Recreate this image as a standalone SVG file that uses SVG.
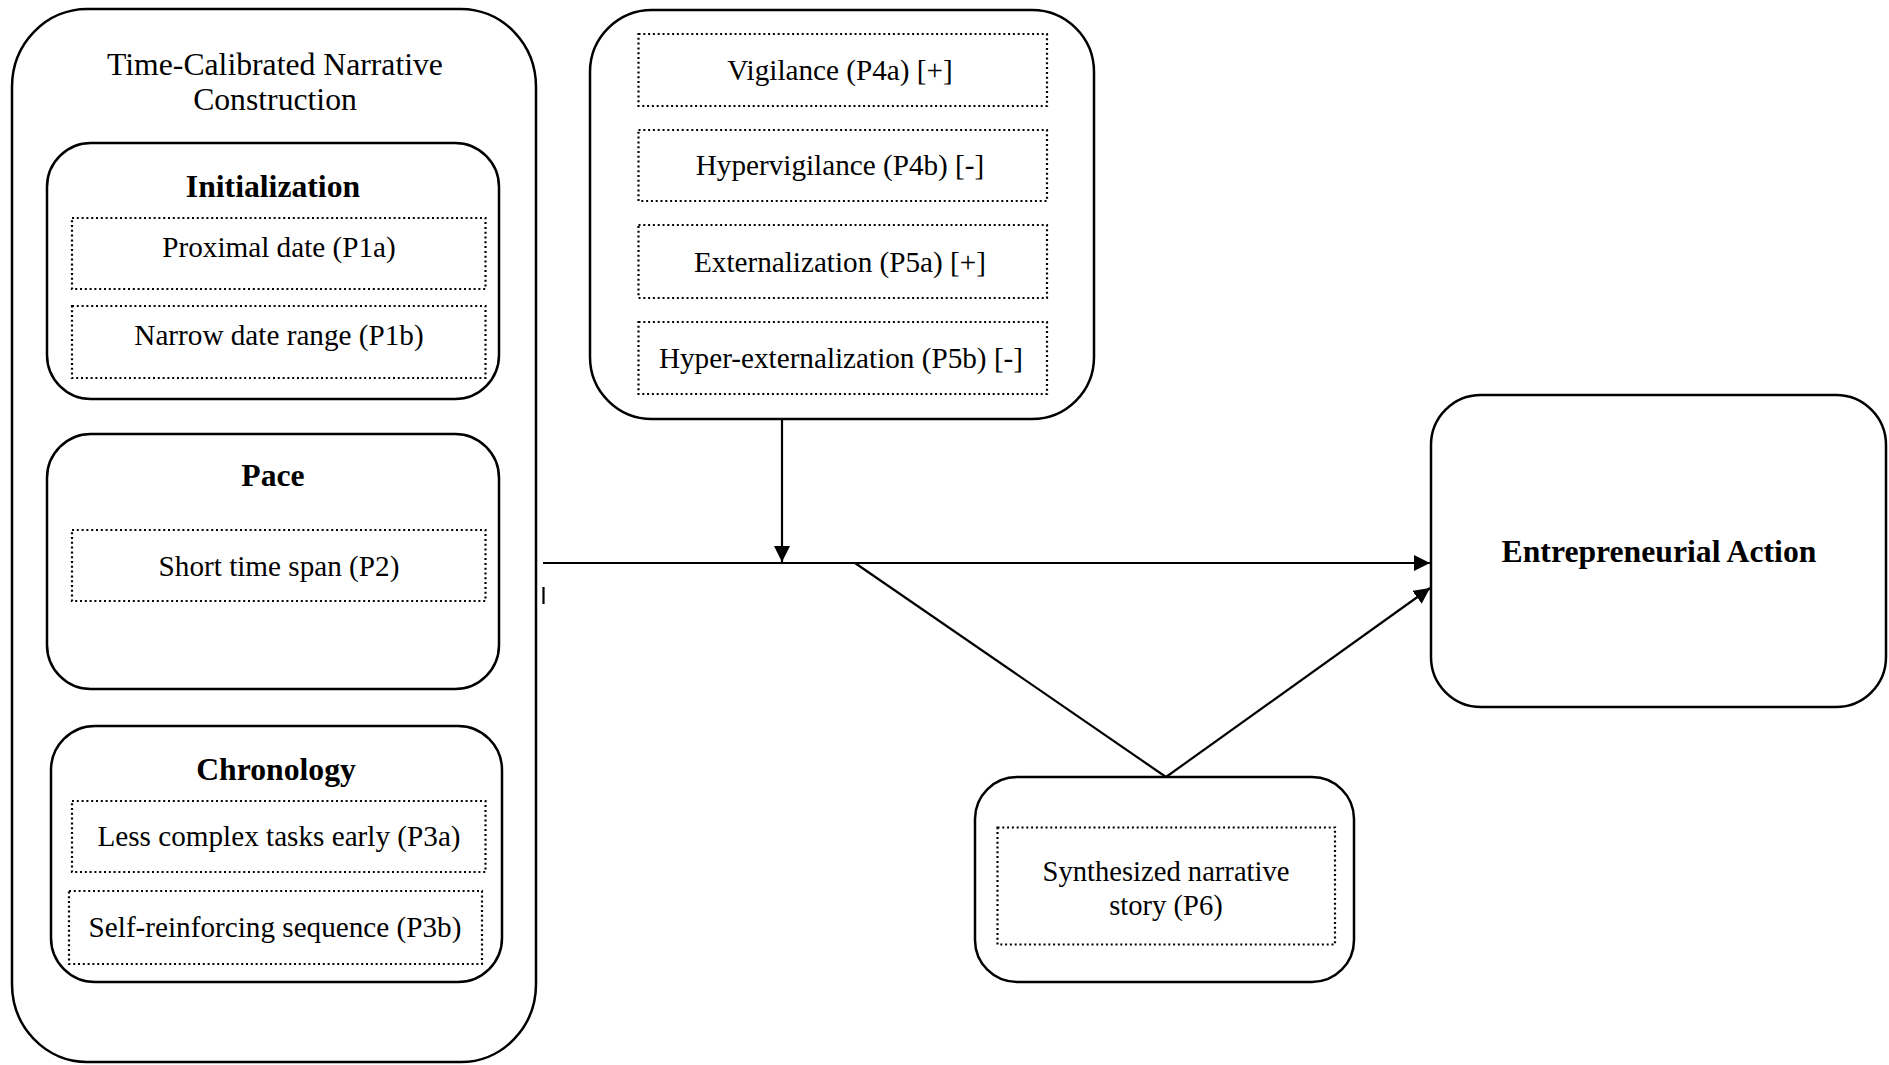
<svg xmlns="http://www.w3.org/2000/svg" width="1889" height="1065" viewBox="0 0 1889 1065">
<defs>
<style>
.box{fill:none;stroke:#000;stroke-width:2.5}
.dot{fill:none;stroke:#000;stroke-width:2.2;stroke-dasharray:2 2.8}
.t{font-family:"Liberation Serif","Times New Roman",serif;font-size:31.7px;fill:#000;text-anchor:middle}
.d{font-size:29.2px}
.b{font-weight:bold}
.s{font-size:28.6px}
.ln{fill:none;stroke:#000;stroke-width:2.2}
</style>
<marker id="ah" viewBox="0 0 16 16" refX="16" refY="8" markerWidth="16" markerHeight="16" markerUnits="userSpaceOnUse" orient="auto">
<path d="M0,0 L16,8 L0,16 Z" fill="#000"/>
</marker>
</defs>
<rect width="1889" height="1065" fill="#fff"/>

<g id="time-calibrated">
<rect class="box" x="12" y="9" width="524" height="1053" rx="75" ry="78"/>
<text class="t" x="275" y="75">Time-Calibrated Narrative</text>
<text class="t" x="275" y="110">Construction</text>
</g>

<g id="initialization">
<rect class="box" x="47" y="143" width="452" height="256" rx="44"/>
<text class="t b" x="273" y="197">Initialization</text>
<rect class="dot" x="72" y="218" width="413.5" height="71"/>
<text class="t d" x="279" y="257">Proximal date (P1a)</text>
<rect class="dot" x="72" y="306" width="413.5" height="72"/>
<text class="t d" x="279" y="345">Narrow date range (P1b)</text>
</g>

<g id="pace">
<rect class="box" x="47" y="434" width="452" height="255" rx="44"/>
<text class="t b" x="273" y="486">Pace</text>
<rect class="dot" x="72" y="530" width="413.5" height="71"/>
<text class="t d" x="279" y="576">Short time span (P2)</text>
</g>

<g id="chronology">
<rect class="box" x="51" y="726" width="451" height="256" rx="44"/>
<text class="t b" x="276" y="780">Chronology</text>
<rect class="dot" x="72" y="801" width="413.5" height="71"/>
<text class="t d" x="279" y="846">Less complex tasks early (P3a)</text>
<rect class="dot" x="69" y="891" width="413" height="73"/>
<text class="t d" x="275" y="937">Self-reinforcing sequence (P3b)</text>
</g>

<g id="moderators">
<rect class="box" x="590" y="10" width="504" height="409" rx="62"/>
<rect class="dot" x="638.5" y="34" width="408.5" height="72"/>
<text class="t d" x="840" y="80">Vigilance (P4a) [+]</text>
<rect class="dot" x="638.5" y="130" width="408.5" height="71"/>
<text class="t d" x="840" y="175">Hypervigilance (P4b) [-]</text>
<rect class="dot" x="638.5" y="225" width="408.5" height="73"/>
<text class="t d" x="840" y="272">Externalization (P5a) [+]</text>
<rect class="dot" x="638.5" y="322" width="408.5" height="72"/>
<text class="t d" x="841" y="368">Hyper-externalization (P5b) [-]</text>
</g>

<g id="synthesized">
<rect class="box" x="975" y="777" width="379" height="205" rx="42"/>
<rect class="dot" x="997.5" y="827.5" width="337.5" height="117"/>
<text class="t s" x="1166" y="881">Synthesized narrative</text>
<text class="t s" x="1166" y="915">story (P6)</text>
</g>

<g id="entrepreneurial-action">
<rect class="box" x="1431" y="395" width="455" height="312" rx="50"/>
<text class="t b" x="1659" y="562">Entrepreneurial Action</text>
</g>

<g id="connectors">
<line class="ln" x1="543" y1="563" x2="1430" y2="563" stroke-width="2.5" marker-end="url(#ah)"/>
<line class="ln" x1="543.5" y1="587" x2="543.5" y2="604" stroke-width="1.5"/>
<line class="ln" x1="782" y1="419" x2="782" y2="562" marker-end="url(#ah)"/>
<line class="ln" x1="855" y1="563" x2="1166" y2="777"/>
<line class="ln" x1="1166" y1="777" x2="1430" y2="588" marker-end="url(#ah)"/>
</g>
</svg>
